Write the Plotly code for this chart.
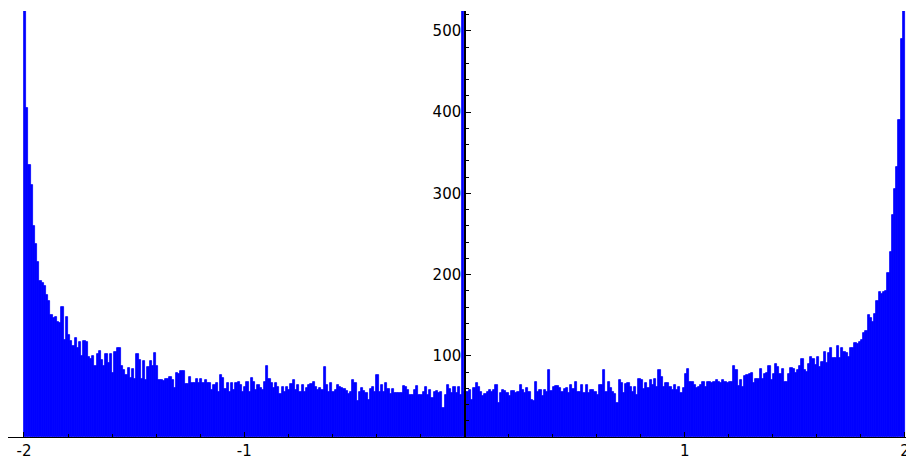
import plotly.graph_objects as go

# Histogram bins: 400 bins of width 0.01 from -2 to 2
bin_start = -2.0
bin_width = 0.01

counts_000_029 = [600, 405, 335, 310, 260, 238, 215, 192, 190, 186,
                  175, 168, 150, 146, 148, 142, 140, 160, 120, 148,
                  125, 118, 112, 122, 110, 117, 100, 118, 117, 99]
counts_030_079 = [96, 100, 87, 102, 106, 95, 87, 102, 91, 102,
                  79, 105, 110, 110, 87, 82, 76, 85, 73, 84,
                  71, 102, 95, 71, 94, 70, 86, 94, 87, 103,
                  87, 70, 70, 69, 71, 71, 74, 70, 60, 79,
                  78, 81, 81, 65, 65, 74, 66, 66, 71, 66]
counts_080_109 = [72, 66, 70, 66, 66, 58, 64, 66, 55, 76, 73, 59, 66, 56, 66,
                  58, 66, 68, 64, 56, 61, 68, 56, 73, 68, 58, 64, 60, 58, 68]
counts_110_138 = [87,
                  72, 66, 60, 66, 62, 53, 62, 56, 62, 58, 65, 70, 58, 64, 56,
                  64, 56, 60, 64, 65, 68, 62, 58, 60, 58,
                  86, 64, 56]
counts_139_198 = [66, 56, 58, 64, 62, 60, 59, 57, 53, 55, 70, 66, 44, 56, 60,
                  57, 54, 46, 59, 62, 55,
                  76,
                  56, 64, 56, 66, 59, 53, 59, 54, 54, 54, 54, 63, 61, 58, 52,
                  52, 58, 63, 52, 52, 55, 61, 52, 58, 48, 56, 57, 54, 56, 36,
                  52, 64, 59, 54, 62, 54, 61, 52]
counts_199 = [19000]
counts_200_263 = [55, 55, 58, 46, 60, 66, 61, 55, 50, 53, 55, 58, 56, 58, 64,
                  42, 54, 58, 57, 54, 50, 57, 57, 54, 56, 64, 58, 54, 60, 56,
                  46, 44, 68, 56, 58, 50, 58, 56,
                  83,
                  57, 62, 63, 63, 60, 56, 59, 60, 54, 64, 59, 68, 56, 56, 64,
                  54, 64, 54, 58, 58, 56, 52, 64,
                  64, 82]
counts_264_323 = [55, 68, 60, 56, 53, 42, 70, 66, 54, 65, 66, 61, 56, 62, 52,
                  72, 70, 59, 66, 60, 70, 64, 71, 61,
                  82,
                  74, 62, 66, 66, 62, 58, 64, 58, 61, 54, 60,
                  78, 84,
                  68, 68, 64, 60, 62, 64, 68, 62, 68, 68, 66, 68, 70, 68, 66,
                  70, 68, 66, 68,
                  68, 88, 82]
counts_324_365 = [63, 70, 62, 75, 76, 78, 79, 66, 72, 72, 84, 72, 78, 79, 87,
                  70, 78, 90, 86, 78, 84, 68, 68, 78, 85, 84, 79, 83, 87, 96,
                  82, 80, 90, 98, 96, 89, 98, 86, 92, 105, 91, 104]
counts_366_399 = [109, 97, 97, 112, 97, 109, 105, 104, 99, 109, 109, 116, 114,
                  117, 119, 128, 130, 150, 146, 142, 152, 167, 179, 176, 178,
                  180, 202, 228, 273, 306, 333, 390, 490, 600]

counts = (counts_000_029 + counts_030_079 + counts_080_109 + counts_110_138
          + counts_139_198 + counts_199 + counts_200_263 + counts_264_323
          + counts_324_365 + counts_366_399)
assert len(counts) == 400, len(counts)

x_tick_vals = [-2, -1, 1, 2]
x_tick_text = ["-2", "-1", "1", "2"]
y_tick_vals = [100, 200, 300, 400, 500]
y_tick_text = ["100", "200", "300", "400", "500"]

BLUE = "#0000ff"
FONT = dict(family="DejaVu Sans", size=15, color="#000000")

fig = go.Figure(
    go.Bar(
        x0=bin_start + bin_width / 2,
        dx=bin_width,
        y=counts,
        width=bin_width,
        marker=dict(color=BLUE, line=dict(width=0.8, color=BLUE)),
        hoverinfo="skip",
    )
)

# The page body has an 8px default margin, so the figure is drawn at (8, 8).
fig.update_layout(
    width=906,
    height=450,
    margin=dict(l=0, r=0, t=3, b=21, autoexpand=False),
    paper_bgcolor="white",
    plot_bgcolor="white",
    bargap=0,
    showlegend=False,
    font=FONT,
    xaxis=dict(
        range=[-2.0726, 2.0409],
        showline=True,
        linecolor="#000000",
        linewidth=1.3,
        ticks="inside",
        ticklen=5,
        tickwidth=1.3,
        tickcolor="#000000",
        tickvals=x_tick_vals,
        ticktext=x_tick_text,
        tickfont=FONT,
        showgrid=False,
        zeroline=False,
        automargin=False,
        minor=dict(ticks="inside", tick0=0, dtick=0.2, ticklen=3,
                   tickwidth=1, tickcolor="#000000", showgrid=False),
    ),
    yaxis=dict(
        range=[0, 524.6],
        anchor="free",
        position=(465 - 8) / 906,
        showline=True,
        linecolor="#000000",
        linewidth=1.5,
        ticks="inside",
        ticklen=5,
        tickwidth=1.3,
        tickcolor="#000000",
        tickvals=y_tick_vals,
        ticktext=y_tick_text,
        tickfont=FONT,
        showgrid=False,
        zeroline=False,
        automargin=False,
        minor=dict(ticks="inside", tick0=0, dtick=20, ticklen=3,
                   tickwidth=1, tickcolor="#000000", showgrid=False),
    ),
)

fig.write_html("out.html", config={"displayModeBar": False})
